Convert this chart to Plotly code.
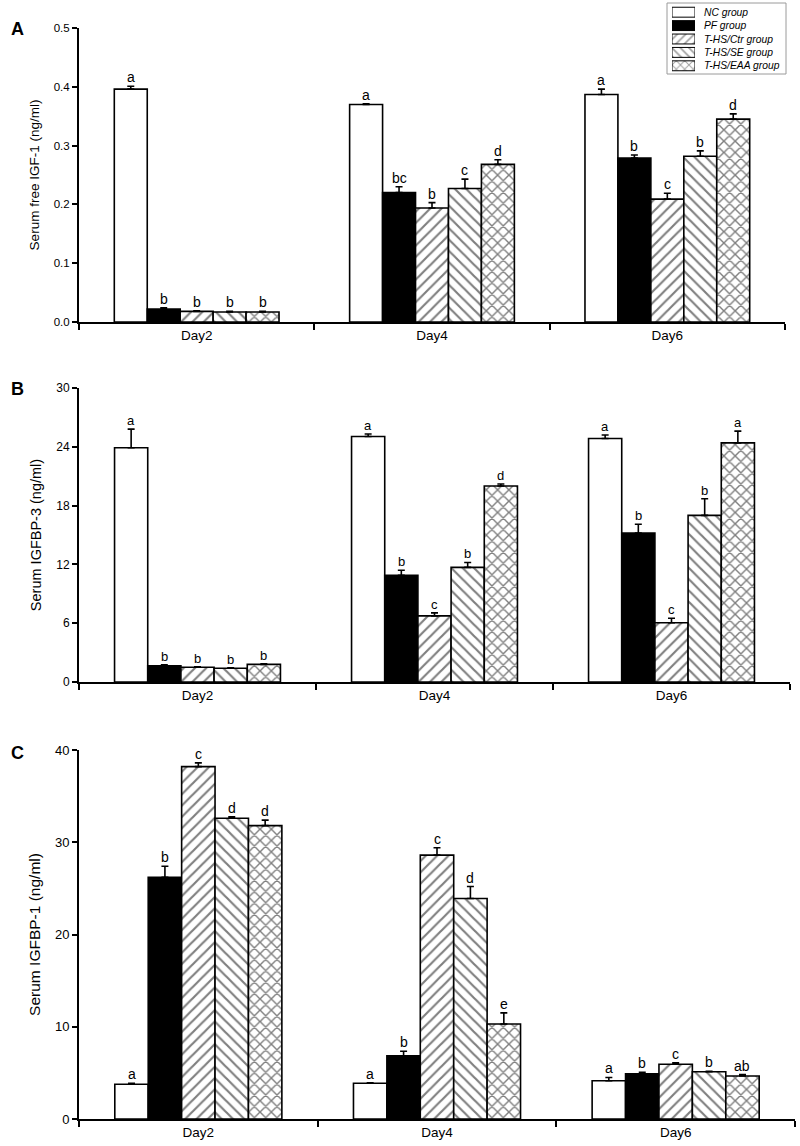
import plotly.graph_objects as go

days = ["Day2", "Day4", "Day6"]
groups = ["NC group", "PF group", "T-HS/Ctr group", "T-HS/SE group", "T-HS/EAA group"]

# Panel A: Serum free IGF-1 (ng/ml)
igf1_nc = [0.396, 0.370, 0.387]
igf1_pf = [0.022, 0.220, 0.279]
igf1_ctr = [0.018, 0.194, 0.209]
igf1_se = [0.017, 0.227, 0.282]
igf1_eaa = [0.017, 0.268, 0.345]
igf1_nc_err = [0.005, 0.001, 0.009]
igf1_pf_err = [0.002, 0.010, 0.005]
igf1_ctr_err = [0.001, 0.009, 0.010]
igf1_se_err = [0.001, 0.016, 0.009]
igf1_eaa_err = [0.001, 0.008, 0.009]
igf1_letters = [["a", "a", "a"], ["b", "bc", "b"], ["b", "b", "c"], ["b", "c", "b"], ["b", "d", "d"]]

# Panel B: Serum IGFBP-3 (ng/ml)
bp3_nc = [23.9, 25.05, 24.85]
bp3_pf = [1.65, 10.9, 15.2]
bp3_ctr = [1.5, 6.75, 6.05]
bp3_se = [1.4, 11.7, 17.0]
bp3_eaa = [1.8, 20.0, 24.4]
bp3_nc_err = [1.9, 0.25, 0.35]
bp3_pf_err = [0.1, 0.5, 0.9]
bp3_ctr_err = [0.05, 0.3, 0.45]
bp3_se_err = [0.05, 0.5, 1.7]
bp3_eaa_err = [0.05, 0.2, 1.2]
bp3_letters = [["a", "a", "a"], ["b", "b", "b"], ["b", "c", "c"], ["b", "b", "b"], ["b", "d", "a"]]

# Panel C: Serum IGFBP-1 (ng/ml)
bp1_nc = [3.76, 3.87, 4.15]
bp1_pf = [26.2, 6.85, 4.9]
bp1_ctr = [38.2, 28.6, 5.93]
bp1_se = [32.6, 23.9, 5.13]
bp1_eaa = [31.8, 10.3, 4.66]
bp1_nc_err = [0.1, 0.05, 0.35]
bp1_pf_err = [1.2, 0.5, 0.17]
bp1_ctr_err = [0.4, 0.8, 0.15]
bp1_se_err = [0.15, 1.3, 0.05]
bp1_eaa_err = [0.6, 1.2, 0.15]
bp1_letters = [["a", "a", "a"], ["b", "b", "b"], ["c", "c", "c"], ["d", "d", "b"], ["d", "e", "ab"]]

panels = [
    dict(vals=[igf1_nc, igf1_pf, igf1_ctr, igf1_se, igf1_eaa],
         errs=[igf1_nc_err, igf1_pf_err, igf1_ctr_err, igf1_se_err, igf1_eaa_err],
         letters=igf1_letters, title="Serum free IGF-1 (ng/ml)", rng=[0, 0.5], dtick=0.1,
         fmt=".1f", xd=[79, 785], yd=[28, 322], tf=11.5, ttf=13.5, lab="A", laby=29, lf=14),
    dict(vals=[bp3_nc, bp3_pf, bp3_ctr, bp3_se, bp3_eaa],
         errs=[bp3_nc_err, bp3_pf_err, bp3_ctr_err, bp3_se_err, bp3_eaa_err],
         letters=bp3_letters, title="Serum IGFBP-3 (ng/ml)", rng=[0, 30], dtick=6,
         fmt="d", xd=[79, 790], yd=[388, 682], tf=12, ttf=14.5, lab="B", laby=389, lf=13),
    dict(vals=[bp1_nc, bp1_pf, bp1_ctr, bp1_se, bp1_eaa],
         errs=[bp1_nc_err, bp1_pf_err, bp1_ctr_err, bp1_se_err, bp1_eaa_err],
         letters=bp1_letters, title="Serum IGFBP-1 (ng/ml)", rng=[0, 40], dtick=10,
         fmt="d", xd=[79, 795], yd=[750, 1119], tf=13, ttf=15.5, lab="C", laby=753, lf=14),
]

W, H = 800, 1146
FONT = "Arial, Liberation Sans, sans-serif"
fill_colors = ["white", "black", "white", "white", "white"]
shapes_pat = ["", "", "/", "\\", "x"]
pat_sizes = [8, 8, 8, 8, 8]
pat_solid = [0.3, 0.3, 0.27, 0.27, 0.32]


def px(x):
    return x / W


def py(y):
    return 1 - y / H


fig = go.Figure()
annotations = []
layout = dict(width=W, height=H, margin=dict(l=0, r=0, t=0, b=0, autoexpand=False),
              paper_bgcolor="white", plot_bgcolor="rgba(0,0,0,0)",
              barmode="group", bargap=0.3, bargroupgap=0, showlegend=False,
              font=dict(family=FONT, color="black"))

nb = len(groups)
bw = (1 - 0.3) / nb
for p, pan in enumerate(panels):
    sfx = "" if p == 0 else str(p + 1)
    xa, ya = "x" + sfx, "y" + sfx
    for g in range(nb):
        pat = dict(shape=shapes_pat[g])
        if shapes_pat[g]:
            pat.update(fgcolor="black", bgcolor="white", size=pat_sizes[g], solidity=pat_solid[g])
        fig.add_trace(go.Bar(
            x=days, y=pan["vals"][g], name=groups[g],
            xaxis=xa, yaxis=ya, offsetgroup=str(g),
            marker=dict(color=fill_colors[g], pattern=pat,
                        line=dict(color="black", width=1.6)),
            error_y=dict(type="data", array=pan["errs"][g], arrayminus=[0] * 3,
                         symmetric=False, color="black", thickness=1.6, width=3.5),
        ))
        for d in range(len(days)):
            annotations.append(dict(
                x=d + (g - (nb - 1) / 2) * bw, y=pan["vals"][g][d] + pan["errs"][g][d],
                xref=xa, yref=ya, text=pan["letters"][g][d], showarrow=False,
                yanchor="bottom", xanchor="center", yshift=-1,
                font=dict(size=pan["lf"], family=FONT, color="black")))
    x0, x1 = pan["xd"]
    yt, yb = pan["yd"]
    layout["xaxis" + sfx] = dict(
        domain=[px(x0), px(x1)], anchor=ya, type="category", range=[-0.5, 2.5],
        showline=True, linecolor="black", linewidth=2, ticks="outside", tickson="boundaries",
        ticklen=6, tickwidth=2, tickcolor="black", showgrid=False, zeroline=False,
        tickfont=dict(size=13.5, family=FONT, color="black"), fixedrange=True)
    layout["yaxis" + sfx] = dict(
        domain=[py(yb), py(yt)], anchor=xa, range=pan["rng"], dtick=pan["dtick"],
        tick0=0, tickformat=pan["fmt"], showline=True, linecolor="black", linewidth=2,
        ticks="outside", ticklen=5, tickwidth=2, tickcolor="black", showgrid=False,
        zeroline=False, tickfont=dict(size=pan["tf"], family=FONT, color="black"),
        title=dict(text=pan["title"], font=dict(size=pan["ttf"], family=FONT, color="black"),
                   standoff=11))
    annotations.append(dict(x=px(9), y=py(pan["laby"]), xref="paper", yref="paper",
                            text="<b>" + pan["lab"] + "</b>", showarrow=False,
                            xanchor="left", yanchor="middle",
                            font=dict(size=18, family=FONT, color="black")))

# Legend drawn as a small swatch panel (patterned key bars) with italic labels
leg_one = [1] * nb
fig.add_trace(go.Bar(
    x=leg_one, y=groups, orientation="h", xaxis="x4", yaxis="y4", width=0.74,
    marker=dict(color=fill_colors,
                pattern=dict(shape=shapes_pat, fgcolor="black", size=6, solidity=0.3),
                line=dict(color="black", width=1)),
    hoverinfo="skip"))
layout["xaxis4"] = dict(domain=[px(672), px(695)], anchor="y4", range=[0, 1], visible=False)
layout["yaxis4"] = dict(domain=[py(72.5), py(5.5)], anchor="x4", type="category",
                        range=[nb - 0.5, -0.5], visible=False)
for g in range(nb):
    annotations.append(dict(x=px(702), y=groups[g], xref="paper", yref="y4",
                            text="<i>" + groups[g] + "</i>", showarrow=False,
                            xanchor="left", yanchor="middle",
                            font=dict(size=10.3, family=FONT, color="black")))
layout["shapes"] = [dict(type="rect", xref="paper", yref="paper",
                         x0=px(667), x1=px(786), y0=py(74), y1=py(3),
                         line=dict(color="#9a9a9a", width=1), layer="below")]

layout["annotations"] = annotations
fig.update_layout(**layout)
# remove the browser's default 8px page margin so the figure sits at the window origin
fig.write_html("out.html", config={"displayModeBar": False},
               post_script="document.body.style.margin='0px';")
